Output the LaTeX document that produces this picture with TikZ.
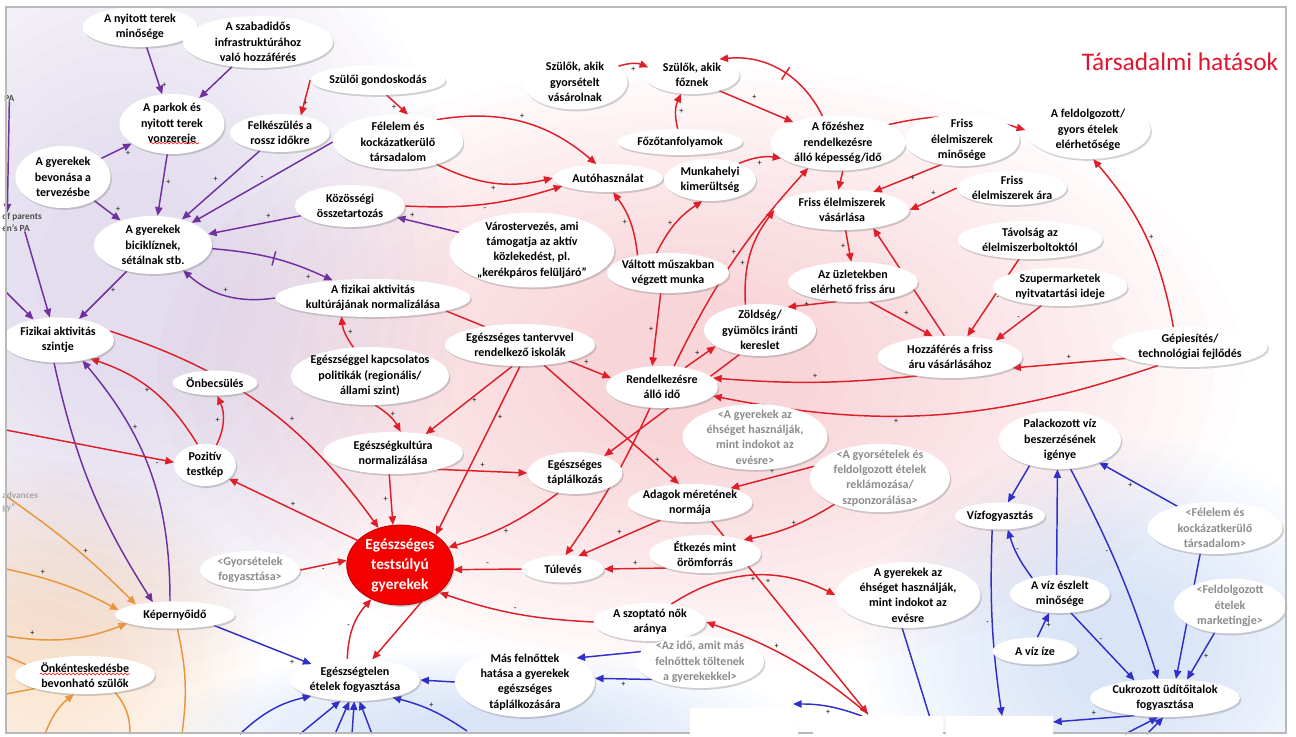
\documentclass[tikz,border=0pt]{standalone}
\usepackage{fontspec}
\setmainfont{Carlito}
\usetikzlibrary{arrows.meta,shapes.geometric,shadows,decorations.pathmorphing}

\definecolor{vio}{RGB}{112,48,160}
\definecolor{rd}{RGB}{222,30,40}
\definecolor{blu}{RGB}{48,48,200}
\definecolor{org}{RGB}{232,150,60}
\definecolor{ttl}{RGB}{225,20,45}
\definecolor{celred}{RGB}{245,0,0}
\definecolor{lav}{RGB}{185,170,212}
\definecolor{pnk}{RGB}{238,150,160}
\definecolor{lbl}{RGB}{160,188,236}
\definecolor{lor}{RGB}{245,190,140}

\pgfdeclarelayer{bg}
\pgfdeclarelayer{edges}
\pgfsetlayers{bg,edges,main}

\begin{document}
\begin{tikzpicture}[x=0.75pt, y=-0.75pt,
    var/.style 2 args={ellipse, fill=white, align=center,
      inner xsep=-14pt, inner ysep=-3pt,
      minimum width=#1*0.75pt, minimum height=#2*0.75pt,
      font=\fontsize{9}{11.5}\selectfont\bfseries,
      drop shadow={shadow xshift=1pt, shadow yshift=-1.4pt, opacity=.35}},
    ext/.style 2 args={var={#1}{#2}, text=black!45},
    goal/.style={ellipse, fill=celred, draw=red!75!black, line width=.6pt,
      text=white, align=center, inner xsep=-5pt, inner ysep=-6pt,
      minimum width=80pt, minimum height=60pt,
      font=\fontsize{11.5}{15}\selectfont\bfseries,
      drop shadow={shadow xshift=1pt, shadow yshift=-1.4pt, opacity=.35}},
    cut/.style={anchor=west, align=left, inner sep=0pt, font=\fontsize{7}{9}\selectfont\bfseries},
    lnk/.style={line width=1.1pt, -{Triangle[length=6.5pt,width=5.5pt]}},
    vl/.style={lnk, vio}, rl/.style={lnk, rd}, bl/.style={lnk, blu}, ol/.style={lnk, org},
    sgn/.style={font=\fontsize{6}{6}\selectfont\bfseries, text=black!75, inner sep=2pt},
    delaymark/.style={sloped, draw, line width=1.1pt, minimum height=11pt,
      minimum width=0pt, inner sep=0pt},
    wavy/.style={red, line width=.4pt, decorate,
      decoration={snake, amplitude=.7pt, segment length=3pt}},
    tint/.style={opacity=.032}
  ]
\useasboundingbox (0,0) rectangle (1296,736);

% soft coloured regions, built up from stacked ellipses
\begin{pgfonlayer}{bg}
\begin{scope}
  \clip (6,7) rectangle (1286,733);
  \foreach \k in {1,...,16} {
    \fill[lav, tint] (130,280) ellipse ({350-16*\k} and {430-20*\k});
    \fill[pnk, tint] (700,370) ellipse ({570-28*\k} and {320-15*\k});
    \fill[lbl, tint] (1120,650) ellipse ({270-13*\k} and {220-10*\k});
    \fill[lbl, tint] (480,736) ellipse ({340-16*\k} and {90-4*\k});
    \fill[lor, tint] (40,650) ellipse ({230-11*\k} and {200-10*\k});
  }
\end{scope}
\end{pgfonlayer}

\node[text=ttl, font=\fontsize{19}{19}\selectfont] (title) at (1180,62) {Társadalmi hatások};

% cut-off variables at the left edge
\node[cut, text=black!70] (pa) at (4,98) {PA};
\node[cut, text=black!70] (parents) at (2,222) {of parents\\en’s PA};
\node[cut, text=black!35] (adv) at (2,502) {advances\\gy”};

% variables
\node[var={115}{40}] (nyitott) at (140,27) {A nyitott terek\\minősége};
\node[var={150}{52}] (szabad) at (258,42) {A szabadidős\\infrastruktúrához\\való hozzáférés};
\node[var={105}{60}] (parkok) at (172,124) {A parkok és\\nyitott terek\\vonzereje};
\node[var={135}{30}] (gondos) at (378,80) {Szülői gondoskodás};
\node[var={100}{38}] (felkesz) at (280,133) {Felkészülés a\\rossz időkre};
\node[var={130}{55}] (felelem) at (398,142) {Félelem és\\kockázatkerülő\\társadalom};
\node[var={95}{62}] (bevon) at (63,177) {A gyerekek\\bevonása a\\tervezésbe};
\node[var={110}{42}] (kozoss) at (350,206) {Közösségi\\összetartozás};
\node[var={118}{58}] (bicikli) at (153,245) {A gyerekek\\biciklíznek,\\sétálnak stb.};
\node[var={105}{55}] (gyorsv) at (575,82) {Szülők, akik\\gyorsételt\\vásárolnak};
\node[var={95}{38}] (foznek) at (692,75) {Szülők, akik\\főznek};
\node[var={125}{26}] (fozotanf) at (680,142) {Főzőtanfolyamok};
\node[var={110}{28}] (auto) at (608,178) {Autóhasználat};
\node[var={92}{42}] (kimerult) at (710,180) {Munkahelyi\\kimerültség};
\node[var={135}{55}] (fozeshez) at (838,143) {A főzéshez\\rendelkezésre\\álló képesség/idő};
\node[var={115}{52}] (frissmin) at (962,140) {Friss\\élelmiszerek\\minősége};
\node[var={125}{58}] (feldolg) at (1088,130) {A feldolgozott/\\gyors ételek\\elérhetősége};
\node[var={110}{34}] (frissar) at (1012,188) {Friss\\élelmiszerek ára};
\node[var={135}{40}] (frissvas) at (842,210) {Friss élelmiszerek\\vásárlása};
\node[var={165}{75}] (varos) at (532,250) {Várostervezés, ami\\támogatja az aktív\\közlekedést, pl.\\„kerékpáros felüljáró”};
\node[var={122}{40}] (valtott) at (668,273) {Váltott műszakban\\végzett munka};
\node[var={145}{38}] (tavolsag) at (1030,240) {Távolság az\\élelmiszerboltoktól};
\node[var={130}{40}] (uzlet) at (853,282) {Az üzletekben\\elérhető friss áru};
\node[var={135}{38}] (szuper) at (1060,287) {Szupermarketek\\nyitvatartási ideje};
\node[var={195}{38}] (fizkult) at (373,298) {A fizikai aktivitás\\kultúrájának normalizálása};
\node[var={112}{52}] (zoldseg) at (760,330) {Zöldség/\\gyümölcs iránti\\kereslet};
\node[var={145}{42}] (hozzaf) at (950,357) {Hozzáférés a friss\\áru vásárlásához};
\node[var={155}{40}] (gepies) at (1190,347) {Gépiesítés/\\technológiai fejlődés};
\node[var={112}{45}] (fizszint) at (58,340) {Fizikai aktivitás\\szintje};
\node[var={150}{42}] (tanterv) at (520,345) {Egészséges tantervvel\\rendelkező iskolák};
\node[var={158}{58}] (politika) at (370,376) {Egészséggel kapcsolatos\\politikák (regionális/\\állami szint)};
\node[var={112}{42}] (rendido) at (662,387) {Rendelkezésre\\álló idő};
\node[var={85}{25}] (onbecs) at (215,383) {Önbecsülés};
\node[var={62}{42}] (testkep) at (205,465) {Pozitív\\testkép};
\node[var={140}{42}] (egkult) at (393,453) {Egészségkultúra\\normalizálása};
\node[ext={145}{58}] (ehsegx) at (755,437) {<A gyerekek az\\éhséget használják,\\mint indokot az\\evésre>};
\node[ext={140}{68}] (reklam) at (880,478) {<A gyorsételek és\\feldolgozott ételek\\reklámozása/\\szponzorálása>};
\node[var={95}{42}] (taplal) at (575,473) {Egészséges\\táplálkozás};
\node[var={122}{58}] (palack) at (1060,440) {Palackozott víz\\beszerzésének\\igénye};
\node[var={125}{38}] (adagok) at (690,503) {Adagok méretének\\normája};
\node[var={90}{27}] (vizfogy) at (1000,516) {Vízfogyasztás};
\node[ext={135}{52}] (felelemx) at (1215,528) {<Félelem és\\kockázatkerülő\\társadalom>};
\node[goal] (cel) at (400,565) {Egészséges\\testsúlyú\\gyerekek};
\node[var={112}{38}] (etkezes) at (705,554) {Étkezés mint\\örömforrás};
\node[ext={100}{38}] (gyorsx) at (250,570) {<Gyorsételek\\fogyasztása>};
\node[var={82}{27}] (tuleves) at (563,569) {Túlevés};
\node[var={145}{58}] (ehseg) at (908,595) {A gyerekek az\\éhséget használják,\\mint indokot az\\evésre};
\node[var={100}{38}] (vizmin) at (1060,594) {A víz észlelt\\minősége};
\node[ext={112}{55}] (markx) at (1230,606) {<Feldolgozott\\ételek\\marketingje>};
\node[var={120}{27}] (kepernyo) at (175,615) {Képernyőidő};
\node[var={112}{38}] (szoptato) at (650,622) {A szoptató nők\\aránya};
\node[var={85}{27}] (vizize) at (1035,651) {A víz íze};
\node[var={140}{38}] (onkent) at (85,675) {Önkénteskedésbe\\bevonható szülők};
\node[var={130}{42}] (egtelen) at (355,680) {Egészségtelen\\ételek fogyasztása};
\node[var={140}{70}] (masfeln) at (525,682) {Más felnőttek\\hatása a gyerekek\\egészséges\\táplálkozására};
\node[ext={128}{52}] (idox) at (700,662) {<Az idő, amit más\\felnőttek töltenek\\a gyerekekkel>};
\node[var={150}{38}] (cukor) at (1165,698) {Cukrozott üdítőitalok\\fogyasztása};

% spelling marks
\draw[wavy] (150,143) -- (199,143);
\draw[wavy] (40,674) -- (130,674);

% loose ends at the frame
\coordinate (lp1) at (6,292);
\coordinate (lr) at (6,430);
\coordinate (lo1) at (6,496);
\coordinate (lo2) at (6,569);
\coordinate (lo3) at (6,636);
\coordinate (lo4) at (6,656);
\coordinate (lo5) at (6,694);
\coordinate (bo1) at (182,734);
\coordinate (bo2) at (45,734);
\coordinate (bo3) at (130,734);
\coordinate (bb1) at (240,734);
\coordinate (bb2) at (300,734);
\coordinate (bb3) at (335,734);
\coordinate (bb4) at (352,734);
\coordinate (bb5) at (372,734);
\coordinate (bb6) at (467,731);
\coordinate (bot1) at (868,714);
\coordinate (bot2) at (1002,716);
\coordinate (bot3) at (935,734);
\coordinate (bot4) at (1053,722);
\coordinate (bot5) at (1125,734);
\coordinate (bot6) at (1147,734);
\coordinate (bot7) at (862,716);
\coordinate (bot8) at (793,704);

\begin{pgfonlayer}{edges}
% physical activity (purple)
\draw[vl] (nyitott) -- node[sgn, pos=.8, right]{+} (parkok);
\draw[vl] (szabad) -- (parkok);
\draw[vl] (bevon) -- node[sgn, pos=.7, below right]{+} (parkok);
\draw[vl] (bevon) -- node[sgn, pos=.7, above right]{+} (bicikli);
\draw[vl] (parkok) -- node[sgn, pos=.45, right]{+} (bicikli);
\draw[vl] (felkesz) -- node[sgn, pos=.5, above left]{+} (bicikli);
\draw[vl] (felelem.west) -- node[sgn, pos=.5, above]{-} (bicikli);
\draw[vl] (kozoss) -- node[sgn, pos=.35, above]{+} (bicikli);
\draw[vl] (bicikli) to[bend left=10] node[delaymark, pos=.5]{} node[sgn, pos=.85, below left]{+} (fizkult);
\draw[vl] (fizkult.west) to[bend left=25] node[sgn, pos=.5, above]{+} (bicikli.-40);
\draw[vl] (varos) -- node[sgn, pos=.75, above]{+} (kozoss);
\draw[vl] (bicikli) -- node[sgn, pos=.4, right]{+} (fizszint);
\draw[vl] ([xshift=4pt]pa.south west) -- ([xshift=4pt]parents.north west);
\draw[vl] (parents) -- (fizszint.110);
\draw[vl] (lp1) -- (fizszint.140);
\draw[vl] (fizszint.-100) to[bend right=10] (kepernyo.150);
\draw[vl] (kepernyo.110) to[bend right=20] node[sgn, pos=.7, right]{+} (fizszint.-40);

% society (red)
\draw[rl] (gondos.west) -- node[sgn, pos=.5, below]{+} (felkesz.40);
\draw[rl] (gondos.-60) -- node[sgn, pos=.6, left]{+} (felelem.70);
\draw[rl] (felelem.30) to[bend left=25] node[sgn, pos=.5, above]{+} (auto.130);
\draw[rl] (felelem.-30) to[bend right=20] node[sgn, pos=.5, below]{+} (auto.west);
\draw[rl] (kozoss.east) to[bend right=10] node[sgn, pos=.5, below]{-} (auto.-170);
\draw[rl] (valtott.150) to[bend right=15] node[sgn, pos=.5, left]{+} (auto.-70);
\draw[rl] (gyorsv.20) to[bend left=20] node[sgn, pos=.5, below]{+} (foznek.170);
\draw[rl] (fozotanf.100) to[bend left=20] node[sgn, pos=.5, right]{+} (foznek.-120);
\draw[rl] (foznek.-30) -- node[sgn, pos=.4, above right]{+} (fozeshez.155);
\draw[rl] (fozeshez.120) to[bend right=35] node[delaymark, pos=.45]{} (foznek.30);
\draw[rl] (kimerult.30) to[bend left=15] node[sgn, pos=.5, below]{+} (fozeshez.195);
\draw[rl] (valtott.120) to[bend left=15] node[sgn, pos=.5, left]{+} (kimerult.-110);
\draw[rl] (rendido.60) to[bend left=8] node[sgn, pos=.55, left]{+} (fozeshez.-140);
\draw[rl] (fozeshez.20) to[bend left=15] node[sgn, pos=.8, below]{+} (feldolg.west);
\draw[rl] (fozeshez.-80) -- (frissvas.100);
\draw[rl] (frissmin.-130) -- node[sgn, pos=.5, right]{+} (frissvas.30);
\draw[rl] (frissar.west) -- node[sgn, pos=.5, above]{+} (frissvas.east);
\draw[rl] (frissvas.-80) -- node[sgn, pos=.5, left]{+} (uzlet.95);
\draw[rl] (uzlet.-130) -- node[sgn, pos=.5, left]{+} (zoldseg.40);
\draw[rl] (uzlet.-50) -- node[sgn, pos=.5, above right]{+} (hozzaf.130);
\draw[rl] (tavolsag.-120) -- node[sgn, pos=.5, right]{-} (hozzaf.50);
\draw[rl] (szuper.-135) -- node[sgn, pos=.5, above]{-} (hozzaf.20);
\draw[rl] (hozzaf.105) -- node[sgn, pos=.5, right]{+} (frissvas.-30);
\draw[rl] (zoldseg.120) to[bend left=20] node[sgn, pos=.4, left]{+} (frissvas.west);
\draw[rl] (zoldseg.-130) -- (taplal.30);
\draw[rl] (valtott.-110) -- node[sgn, pos=.5, left]{+} (rendido.115);
\draw[rl] (rendido.40) -- node[sgn, pos=.4, above]{+} (zoldseg.-160);
\draw[rl] (gepies.-150) to[bend left=15] node[sgn, pos=.6, below]{+} (rendido.-10);
\draw[rl] (hozzaf.-150) to[bend left=5] node[sgn, pos=.5, above]{+} (rendido.10);
\draw[rl] (gepies.-170) -- node[sgn, pos=.5, above]{+} (hozzaf.-10);
\draw[rl] (gepies.130) to[bend right=15] node[sgn, pos=.5, right]{+} (feldolg.-80);
\draw[rl] (fizkult.-10) -- node[sgn, pos=.85, above]{+} (rendido.170);
\draw[rl] (politika.120) to[bend left=15] node[sgn, pos=.5, right]{+} (fizkult.-150);
\draw[rl] (politika.-80) to[bend left=15] node[sgn, pos=.4, right]{+} (egkult.70);
\draw[rl] (tanterv.-110) -- node[sgn, pos=.5, right]{+} (egkult.30);
\draw[rl] (tanterv.-90) -- node[sgn, pos=.3, right]{+} (cel.40);
\draw[rl] (tanterv.-40) -- node[sgn, pos=.8, right]{+} (adagok.120);
\draw[rl] (adagok.-40) -- node[sgn, pos=.3, left]{+} (bot1);
\draw[rl] (bot1) to[bend right=10] node[sgn, pos=.6, above]{+} (szoptato.east);
\draw[rl] (szoptato.40) to[bend left=30] node[sgn, pos=.6, below]{+} (ehseg.west);
\draw[rl] (etkezes.-160) -- node[sgn, pos=.5, above]{+} (tuleves.east);
\draw[rl] (reklam.-150) to[bend left=10] node[sgn, pos=.4, left]{+} (etkezes.20);
\draw[rl] (reklam.170) -- node[sgn, pos=.5, above]{+} (adagok.20);
\draw[rl] (adagok.-150) -- node[sgn, pos=.5, above]{+} (tuleves.40);
\draw[rl] (rendido.-120) to[bend left=5] node[sgn, pos=.5, left]{-} (tuleves.80);
\draw[rl] (egkult.-20) -- node[sgn, pos=.5, above]{+} (taplal.west);
\draw[rl] (egkult.-100) -- node[sgn, pos=.5, left]{+} (cel.100);
\draw[rl] (taplal.-130) to[bend left=10] node[sgn, pos=.5, below]{+} (cel.20);
\draw[rl] (tuleves.west) -- node[sgn, pos=.5, above]{-} (cel.-5);
\draw[rl] (szoptato.west) to[bend left=8] node[sgn, pos=.5, above]{-} (cel.-35);
\draw[rl] (cel.-60) -- (egtelen.50);
\draw[rl] (egtelen.110) to[bend left=20] node[sgn, pos=.5, left]{-} (cel.-130);
\draw[rl] (gyorsx.east) -- node[sgn, pos=.5, below]{-} (cel.175);
\draw[rl] (cel.150) -- node[sgn, pos=.5, above]{+} (testkep.-30);
\draw[rl] (testkep.60) to[bend right=25] node[sgn, pos=.5, left]{+} (onbecs.-80);
\draw[rl] (testkep.110) to[bend right=20] node[sgn, pos=.5, left]{+} (fizszint.-30);
\draw[rl] (fizszint.10) to[bend left=18] node[sgn, pos=.6, above right]{+} (cel.120);
\draw[rl] (lr) -- node[sgn, pos=.9, below]{-} (testkep.175);

% water (blue)
\draw[bl] (kepernyo.-15) -- node[sgn, pos=.8, below]{+} (egtelen.160);
\draw[bl] (palack.-140) -- (vizfogy.60);
\draw[bl] (vizmin.100) -- (palack.-95);
\draw[bl] (palack.-70) to[bend left=5] node[sgn, pos=.4, left]{-} (cukor.110);
\draw[bl] (felelemx.150) -- node[sgn, pos=.6, below]{+} (palack.-30);
\draw[bl] (felelemx.-120) -- node[sgn, pos=.5, left]{+} (cukor.60);
\draw[bl] (markx.-120) -- node[sgn, pos=.5, right]{+} (cukor.40);
\draw[bl] (vizmin.150) to[bend left=10] node[sgn, pos=.5, above]{-} (vizfogy.-60);
\draw[bl] (vizize.80) -- node[sgn, pos=.5, right]{+} (vizmin.-120);
\draw[bl] (vizmin.-60) -- node[sgn, pos=.4, right]{-} (cukor.150);
\draw[bl] (vizfogy.-120) to[bend right=5] node[sgn, pos=.5, left]{-} (bot2);
\draw[bl, -] (ehseg.-100) -- (bot3);
\draw[bl] (cukor.-150) -- node[sgn, pos=.5, above]{+} (bot4);
\draw[bl] (bot5) -- (cukor.-110);
\draw[bl] (bot6) -- (cukor.-95);
\draw[bl] (masfeln.west) -- (egtelen.east);
\draw[bl] (idox.170) -- (masfeln.25);
\draw[bl] (idox.-160) -- node[sgn, pos=.5, below]{+} (masfeln.3);
\draw[bl] (bot7) to[bend right=10] node[sgn, pos=.5, below]{+} (bot8);
\draw[bl] (bb1) to[bend left=15] (egtelen.-160);
\draw[bl] (bb2) -- (egtelen.-125);
\draw[bl] (bb3) -- (egtelen.-105);
\draw[bl] (bb4) -- (egtelen.-92);
\draw[bl] (bb5) -- (egtelen.-78);
\draw[bl] (bb6) to[bend right=10] node[sgn, pos=.5, above]{+} (egtelen.-25);

% parents and screen time (orange)
\draw[ol] (lo1) to[bend left=5] node[sgn, pos=.6, above]{+} (kepernyo.165);
\draw[ol] (lo2) to[bend left=8] node[sgn, pos=.3, above]{+} (kepernyo.175);
\draw[ol] (lo3) to[bend right=15] node[sgn, pos=.2, above]{+} (kepernyo.-170);
\draw[org, line width=1.1pt] (kepernyo.-80) to[bend left=10] (bo1);
\draw[ol] (bo2) to[bend left=15] (onkent.-120);
\draw[org, line width=1.1pt] (onkent.-30) to[bend left=20] (bo3);
\draw[org, line width=1.1pt] (lo4) -- (onkent.170);
\draw[org, line width=1.1pt] (lo5) -- (onkent.-165);
\end{pgfonlayer}

% frame and covered strips at the bottom
\draw[gray!55, line width=1.2pt] (6,7) rectangle (1286,733);
\fill[white] (690,708) rectangle (798,736);
\fill[white] (813,716) rectangle (943,736);
\fill[white] (946,716) rectangle (1053,736);
\end{tikzpicture}
\end{document}
